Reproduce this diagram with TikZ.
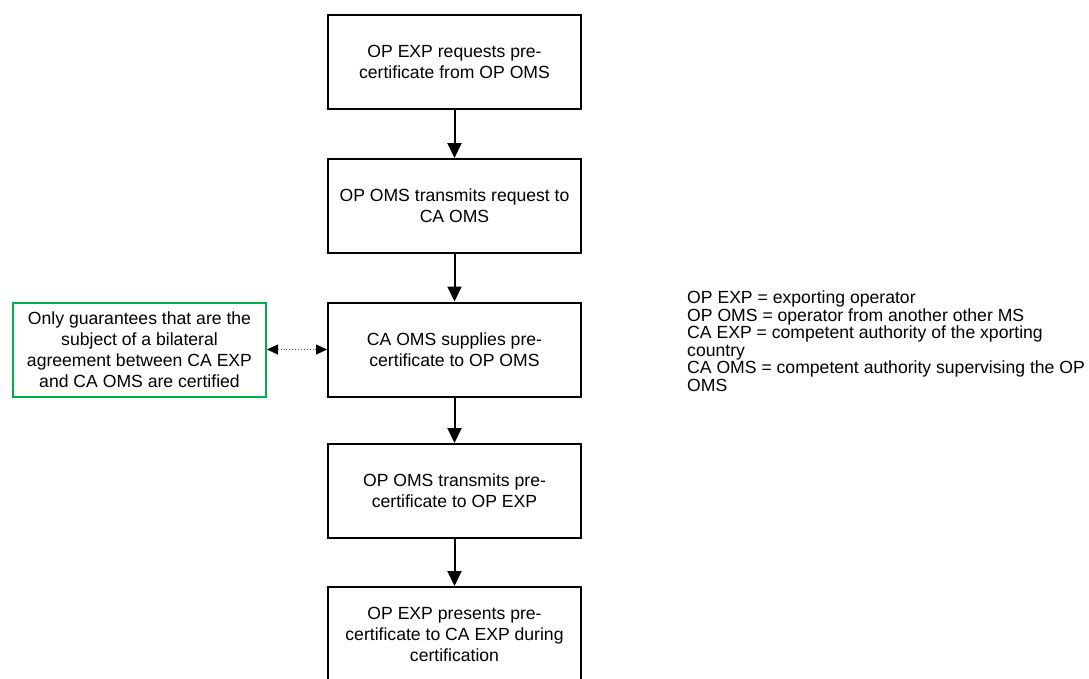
\documentclass[tikz,border=0pt]{standalone}
\usepackage{fontspec}
\setmainfont{Liberation Sans}
\usetikzlibrary{arrows.meta}
\definecolor{boxgreen}{RGB}{0,176,80}
\definecolor{dotgray}{RGB}{90,90,90}
\tikzset{
  stepbox/.style={draw=black, line width=2pt, minimum width=253pt, minimum height=94pt,
    inner sep=0pt, align=center, font=\fontsize{17.6}{21}\selectfont},
  notebox/.style={stepbox, draw=boxgreen},
  flowarrow/.style={line width=2pt, -{Triangle[length=15pt,width=14pt]}},
  linkarrow/.style={line width=0.9pt, dotgray, dotted,
    {Triangle[length=11pt,width=10pt,black]}-{Triangle[length=11pt,width=10pt,black]}},
  legend/.style={align=left, inner sep=0pt, anchor=west, font=\fontsize{17.6}{17.5}\selectfont}
}
\begin{document}
\begin{tikzpicture}[x=1pt,y=-1pt]
\useasboundingbox (0,0) rectangle (1089,678);
\node[stepbox] (s1) at (454.5,62) {OP EXP requests pre-\\certificate from OP OMS};
\node[stepbox] (s2) at (454.5,206) {OP OMS transmits request to\\CA OMS};
\node[stepbox] (s3) at (454.5,349.5) {CA OMS supplies pre-\\certificate to OP OMS};
\node[stepbox] (s4) at (454.5,491) {OP OMS transmits pre-\\certificate to OP EXP};
\node[stepbox] (s5) at (454.5,634) {OP EXP presents pre-\\certificate to CA EXP during\\certification};
\node[notebox] (n) at (139.5,349.5) {Only guarantees that are the\\subject of a bilateral\\agreement between CA EXP\\and CA OMS are certified};
\node[legend] (lg) at (687,341) {OP EXP = exporting operator\\OP OMS = operator from another other MS\\CA EXP = competent authority of the xporting\\country\\CA OMS = competent authority supervising the OP\\OMS};
\draw[flowarrow] (s1) -- (s2);
\draw[flowarrow] (s2) -- (s3);
\draw[flowarrow] (s3) -- (s4);
\draw[flowarrow] (s4) -- (s5);
\draw[linkarrow] (n) -- (s3);
\end{tikzpicture}
\end{document}
